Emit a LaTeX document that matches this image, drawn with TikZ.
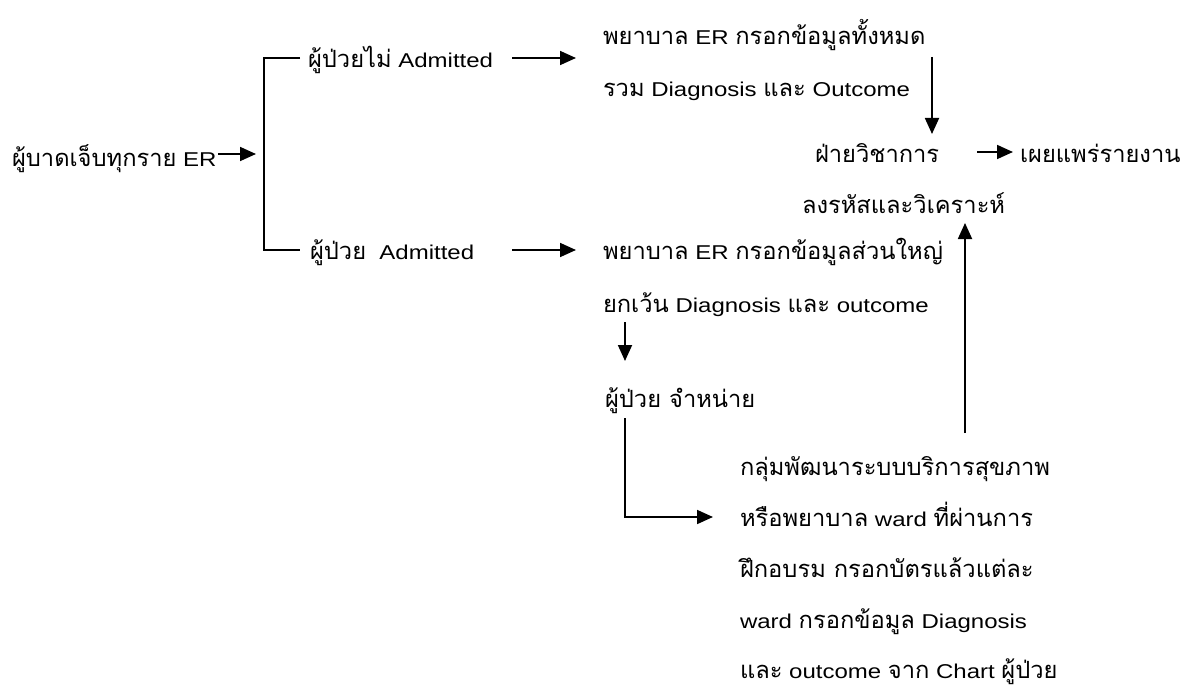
\documentclass[tikz,border=0pt]{standalone}
\usepackage{fontspec}
\setmainfont{Liberation Sans}[FakeStretch=1.2]
\newfontfamily\thaifont[Script=Thai,Scale=1.185]{Loma}
\newcommand{\thtxt}[1]{{\thaifont #1}}
\usetikzlibrary{arrows.meta}
\tikzset{
  lbl/.style={anchor=base west, inner sep=0pt, outer sep=0pt, font=\fontsize{20bp}{22bp}\selectfont},
  conn/.style={line width=1.8bp},
  arr/.style={conn, -{Triangle[length=16bp,width=14bp]}}
}
\begin{document}
\begin{tikzpicture}[x=1bp,y=-1bp]
\useasboundingbox (0,0) rectangle (1189,691);
% texts
\node[lbl] (start) at (12,167) {\thtxt{ผู้บาดเจ็บทุกราย} ER};
\node[lbl] (notadm) at (308,68) {\thtxt{ผู้ป่วยไม่} Admitted};
\node[lbl] (adm) at (310,259) {\thtxt{ผู้ป่วย}\ \ Admitted};
\node[lbl] (erall1) at (603,45) {\thtxt{พยาบาล} ER \thtxt{กรอกข้อมูลทั้งหมด}};
\node[lbl] (erall2) at (603,97) {\thtxt{รวม} Diagnosis \thtxt{และ} Outcome};
\node[lbl] (acad1) at (815,163) {\thtxt{ฝ่ายวิชาการ}};
\node[lbl] (pub) at (1020,163) {\thtxt{เผยแพร่รายงาน}};
\node[lbl] (acad2) at (802,214) {\thtxt{ลงรหัสและวิเคราะห์}};
\node[lbl] (ermost1) at (603,259) {\thtxt{พยาบาล} ER \thtxt{กรอกข้อมูลส่วนใหญ่}};
\node[lbl] (ermost2) at (603,312) {\thtxt{ยกเว้น} Diagnosis \thtxt{และ} outcome};
\node[lbl] (disch) at (605,407) {\thtxt{ผู้ป่วย จำหน่าย}};
\node[lbl] (ward1) at (740,475) {\thtxt{กลุ่มพัฒนาระบบบริการสุขภาพ}};
\node[lbl] (ward2) at (740,526) {\thtxt{หรือพยาบาล} ward \thtxt{ที่ผ่านการ}};
\node[lbl] (ward3) at (740,577) {\thtxt{ฝึกอบรม กรอกบัตรแล้วแต่ละ}};
\node[lbl] (ward4) at (740,628) {ward \thtxt{กรอกข้อมูล} Diagnosis};
\node[lbl] (ward5) at (740,678) {\thtxt{และ} outcome \thtxt{จาก} Chart \thtxt{ผู้ป่วย}};
% connector end points
\coordinate (s1) at (218,154);  \coordinate (s2) at (256,154);
\coordinate (bt) at (300,58);   \coordinate (bb) at (300,250);
\coordinate (bx) at (264,58);   \coordinate (by) at (264,250);
\coordinate (a1) at (512,58);   \coordinate (a2) at (576,58);
\coordinate (b1) at (512,250);  \coordinate (b2) at (576,250);
\coordinate (d1) at (932,57);   \coordinate (d2) at (932,134);
\coordinate (p1) at (977,152);  \coordinate (p2) at (1013,152);
\coordinate (u1) at (965,433);  \coordinate (u2) at (965,223);
\coordinate (e1) at (625,322);  \coordinate (e2) at (625,361);
\coordinate (l1) at (625,418);  \coordinate (l2) at (625,517);
\coordinate (l3) at (713,517);
% connectors
\draw[arr] (s1) -- (s2);
\draw[conn] (bt) -- (bx) -- (by) -- (bb);
\draw[arr] (a1) -- (a2);
\draw[arr] (b1) -- (b2);
\draw[arr] (d1) -- (d2);
\draw[arr] (p1) -- (p2);
\draw[arr] (u1) -- (u2);
\draw[arr] (e1) -- (e2);
\draw[arr] (l1) -- (l2) -- (l3);
\end{tikzpicture}
\end{document}
